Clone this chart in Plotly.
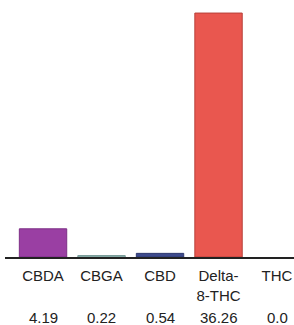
import plotly.graph_objects as go

categories = ["CBDA", "CBGA", "CBD", "Delta-8-THC", "THC"]
tick_labels = ["CBDA", "CBGA", "CBD", "Delta-<br>8-THC", "THC"]
values = [4.19, 0.22, 0.54, 36.26, 0.0]
value_labels = ["4.19", "0.22", "0.54", "36.26", "0.0"]
colors = ["#9a3fa3", "#8fb5b2", "#3d4a8c", "#e9574f", "rgba(0,0,0,0)"]
outline = ["#7d2f86", "#7a9c99", "#2f3a70", "#b8403a", "rgba(0,0,0,0)"]

fig = go.Figure(go.Bar(
    x=categories, y=values, width=0.81,
    marker=dict(color=colors, line=dict(color=outline, width=1)),
))

font = dict(family="Liberation Sans, Arial, sans-serif", size=15, color="#222222")

for c, v in zip(categories, value_labels):
    fig.add_annotation(x=c, y=-0.2335, xref="x", yref="paper", text=v,
                       showarrow=False, yanchor="middle", font=font)

fig.update_layout(
    width=294, height=325,
    margin=dict(l=5, r=0, t=0, b=68, autoexpand=False),
    paper_bgcolor="white", plot_bgcolor="white",
    showlegend=False,
)
fig.update_xaxes(
    type="category", range=[-0.650, 4.290], automargin=False,
    tickvals=categories, ticktext=tick_labels,
    showline=True, linecolor="#222222", linewidth=2,
    ticks="", ticklabelstandoff=4,
    showgrid=False, zeroline=False, tickfont=font,
)
fig.update_yaxes(range=[0, 38.2], visible=False, showgrid=False, zeroline=False,
                 automargin=False)

fig.write_html("out.html", config={"displayModeBar": False},
               post_script="document.body.style.margin='0';document.body.style.overflow='hidden';")
